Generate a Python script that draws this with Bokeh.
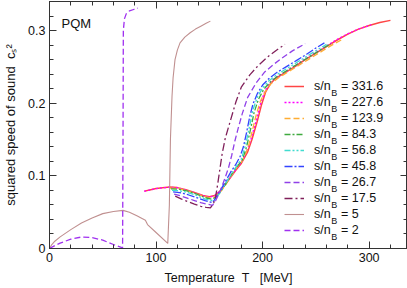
import math
from bokeh.plotting import figure
from bokeh.models import Range1d, FixedTicker, LinearAxis, Legend, LegendItem, Label
from bokeh.embed import file_html
from bokeh.resources import INLINE

FONT = "Liberation Sans"
AX = "#333333"
TXT = "#111111"

# ---------------- data ----------------
sn_labels = ["331.6", "227.6", "123.9", "84.3", "56.8", "45.8", "26.7", "17.5", "5", "2"]

T_3316 = [89, 95, 100, 106, 113, 120, 128, 136, 144, 150, 155, 160, 165, 170, 175, 180, 186, 190, 195, 199,
          203, 207, 212, 220, 230, 240, 250, 260, 270, 280, 290, 300, 310, 320]
c_3316 = [0.079, 0.081, 0.0825, 0.0837, 0.0845, 0.0838, 0.081, 0.077, 0.073, 0.0712, 0.073, 0.079, 0.088, 0.098,
          0.108, 0.117, 0.133, 0.150, 0.175, 0.198, 0.216, 0.226, 0.234, 0.241, 0.250, 0.260, 0.269, 0.278, 0.287,
          0.295, 0.302, 0.307, 0.311, 0.314]

T_2276 = [89, 95, 100, 106, 113, 120, 128, 136, 144, 150, 155, 160, 165, 170, 175, 180, 185, 189, 194, 198,
          202, 206, 211, 219, 229, 239, 249, 259, 269, 279, 290, 302]
c_2276 = [0.0788, 0.0808, 0.0823, 0.0835, 0.0843, 0.0835, 0.0806, 0.0766, 0.0726, 0.0705, 0.0725, 0.079, 0.0885,
          0.099, 0.109, 0.1185, 0.133, 0.150, 0.176, 0.199, 0.216, 0.226, 0.234, 0.241, 0.250, 0.260, 0.269, 0.278,
          0.287, 0.295, 0.302, 0.308]

T_1239 = [113, 120, 128, 136, 144, 151, 156, 160, 165, 170, 175, 181, 186, 190, 194, 198, 203, 208, 215, 225,
          235, 245, 255, 265, 275]
c_1239 = [0.083, 0.0828, 0.080, 0.076, 0.072, 0.0695, 0.071, 0.077, 0.087, 0.099, 0.110, 0.121, 0.137, 0.160,
          0.184, 0.203, 0.217, 0.227, 0.235, 0.244, 0.253, 0.262, 0.271, 0.280, 0.288]

T_843 = [114, 122, 130, 138, 146, 152, 156, 160, 165, 170, 175, 181, 185, 189, 192, 196, 201, 207, 214, 224,
         234, 244, 254, 264]
c_843 = [0.082, 0.0815, 0.079, 0.075, 0.070, 0.068, 0.070, 0.077, 0.088, 0.100, 0.111, 0.122, 0.140, 0.166,
         0.187, 0.205, 0.219, 0.229, 0.237, 0.246, 0.255, 0.264, 0.273, 0.282]

T_568 = [115, 122, 130, 138, 146, 152, 156, 160, 165, 170, 175, 180, 184, 188, 191, 195, 200, 206, 213, 222,
         232, 242, 252, 260]
c_568 = [0.080, 0.0795, 0.077, 0.073, 0.068, 0.066, 0.069, 0.077, 0.089, 0.101, 0.112, 0.123, 0.142, 0.170,
         0.191, 0.208, 0.221, 0.231, 0.239, 0.247, 0.256, 0.265, 0.274, 0.281]

T_458 = [116, 122, 130, 138, 146, 153, 156, 160, 165, 170, 175, 179, 182, 185, 188, 191, 195, 200, 206, 213,
         222, 232, 242, 250, 258]
c_458 = [0.078, 0.077, 0.074, 0.070, 0.066, 0.063, 0.0695, 0.079, 0.092, 0.105, 0.116, 0.127, 0.140, 0.160,
         0.182, 0.199, 0.213, 0.225, 0.234, 0.242, 0.250, 0.259, 0.268, 0.276, 0.283]

T_267 = [117, 124, 130, 136, 142, 148, 153, 156, 159, 162, 165, 168, 171, 174, 177, 181, 186, 194, 202, 210,
         218, 228, 240]
c_267 = [0.075, 0.072, 0.069, 0.066, 0.063, 0.061, 0.0595, 0.066, 0.075, 0.086, 0.098, 0.111, 0.128, 0.148,
         0.165, 0.186, 0.208, 0.228, 0.243, 0.253, 0.262, 0.272, 0.282]

T_175 = [118, 124, 130, 136, 142, 147, 151, 154, 156, 158, 160, 162, 165, 170, 175, 180, 188, 196, 205, 213, 221]
c_175 = [0.072, 0.068, 0.0645, 0.061, 0.058, 0.0565, 0.056, 0.062, 0.072, 0.090, 0.110, 0.130, 0.152, 0.177,
         0.202, 0.222, 0.239, 0.252, 0.264, 0.273, 0.281]

T_5 = [0, 2, 5, 10, 20, 30, 40, 50, 60, 69, 75, 82, 90, 92, 100, 111, 112.5, 113.5, 115, 116, 117.8, 120,
       122.5, 127, 132, 137, 142, 147, 151]
c_5 = [0.0, 0.005, 0.010, 0.016, 0.026, 0.035, 0.042, 0.048, 0.051, 0.0525, 0.050, 0.045, 0.039, 0.033, 0.022,
       0.007, 0.06, 0.15, 0.21, 0.235, 0.26, 0.273, 0.283, 0.291, 0.297, 0.302, 0.306, 0.310, 0.313]

T_2 = [0, 5, 10, 20, 30, 40, 50, 60, 68.6, 69.0, 69.3, 70.3, 72, 75, 79, 83]
c_2 = [0.0, 0.004, 0.0075, 0.0128, 0.0158, 0.0150, 0.0115, 0.0055, 0.001, 0.15, 0.300, 0.316, 0.323, 0.327,
       0.329, 0.331]

x_ticks = [0, 100, 200, 300]
y_ticks = [0, 0.1, 0.2, 0.3]

# ---------------- figure ----------------
p = figure(width=407, height=288, x_range=Range1d(0, 336), y_range=Range1d(0, 0.34),
           output_backend="svg", toolbar_location=None,
           min_border_left=48, min_border_right=0, min_border_top=1, min_border_bottom=40)
p.grid.visible = False
p.outline_line_color = AX
p.background_fill_color = "white"
p.border_fill_color = "white"

xt = FixedTicker(ticks=x_ticks, minor_ticks=list(range(0, 341, 20)))
yt = FixedTicker(ticks=y_ticks, minor_ticks=[round(i * 0.02, 2) for i in range(18)])


def style_axis(ax, show_labels, ticks):
    ax.axis_line_color = AX
    ax.major_tick_line_color = AX
    ax.minor_tick_line_color = AX
    ax.major_tick_in = 7
    ax.major_tick_out = 0
    ax.minor_tick_in = 4
    ax.minor_tick_out = 0
    ax.major_label_text_font = FONT
    ax.major_label_text_color = TXT
    if show_labels:
        ax.major_label_text_font_size = "12.5px"
        ax.major_label_standoff = 4
    else:
        ax.major_label_text_font_size = "0px"
        ax.major_label_standoff = 0
        ax.major_label_overrides = {t: "" for t in ticks}


p.xaxis.ticker = xt
p.yaxis.ticker = yt
style_axis(p.xaxis[0], True, x_ticks)
style_axis(p.yaxis[0], True, y_ticks)
p.yaxis[0].major_label_overrides = {0: "0"}

xa = p.xaxis[0]
xa.axis_label = "Temperature\u00a0\u00a0T\u00a0\u00a0\u00a0[MeV]"
xa.axis_label_text_font = FONT
xa.axis_label_text_font_size = "12.5px"
xa.axis_label_text_font_style = "normal"
xa.axis_label_text_color = TXT
xa.axis_label_standoff = 6

ya = p.yaxis[0]
ya.axis_label = "squared speed of sound\u00a0\u00a0c\u209b\u00b2"
ya.axis_label_text_font = FONT
ya.axis_label_text_font_size = "13px"
ya.axis_label_text_font_style = "normal"
ya.axis_label_text_color = TXT
ya.axis_label_standoff = 7

top = LinearAxis(ticker=xt)
right = LinearAxis(ticker=yt)
style_axis(top, False, x_ticks)
style_axis(right, False, y_ticks)
p.add_layout(top, "above")
p.add_layout(right, "right")

series = [
    (T_3316, c_3316, "#ff4545", None, 1.5),
    (T_2276, c_2276, "#ff00ff", "2 2", 1.3),
    (T_1239, c_1239, "#ffad33", "6 3", 1.3),
    (T_843, c_843, "#3faa3f", "6 2 2 2", 1.3),
    (T_568, c_568, "#40dcd0", "6 2 2 2 2 2", 1.3),
    (T_458, c_458, "#3344ff", "8 2 2 2", 1.3),
    (T_267, c_267, "#9040e8", "6 3", 1.3),
    (T_175, c_175, "#80205a", "8 3 2 3", 1.3),
    (T_5, c_5, "#c09090", None, 1.1),
    (T_2, c_2, "#a030f0", "6 3", 1.3),
]

items = []
for lab, (T, c, col, dash, lw) in zip(sn_labels, series):
    kw = dict(line_color=col, line_width=lw)
    if dash:
        kw["line_dash"] = dash
    r = p.line(T, c, **kw)
    items.append(LegendItem(label="s/n\u00a0\u00a0\u00a0= " + lab, renderers=[r]))

LEG_X, LEG_Y = 235, 11
ROW_H, ROW_GAP = 14, 2
legend = Legend(items=items, location=(LEG_X, LEG_Y), orientation="vertical", padding=0, margin=0,
                spacing=ROW_GAP, glyph_width=20, glyph_height=ROW_H, label_height=ROW_H, label_standoff=10,
                label_text_font=FONT, label_text_font_size="12.5px", label_text_color=TXT,
                border_line_alpha=0, background_fill_alpha=0)
p.add_layout(legend)

# subscript B of each legend entry
n = len(sn_labels)
leg_top = LEG_Y + n * ROW_H + (n - 1) * ROW_GAP
for i in range(n):
    cy = leg_top - ROW_H / 2 - i * (ROW_H + ROW_GAP)
    p.add_layout(Label(x=LEG_X + 30 + 16.7, y=cy - 6.5, x_units="screen", y_units="screen", text="B",
                       text_font=FONT, text_font_size="9px", text_color=TXT, text_baseline="alphabetic"))

# model label
p.add_layout(Label(x=12, y=225, x_units="screen", y_units="screen", text="PQM", text_font=FONT,
                   text_font_size="13px", text_color=TXT, text_baseline="alphabetic"))

open("out.html", "w").write(file_html(p, INLINE))
